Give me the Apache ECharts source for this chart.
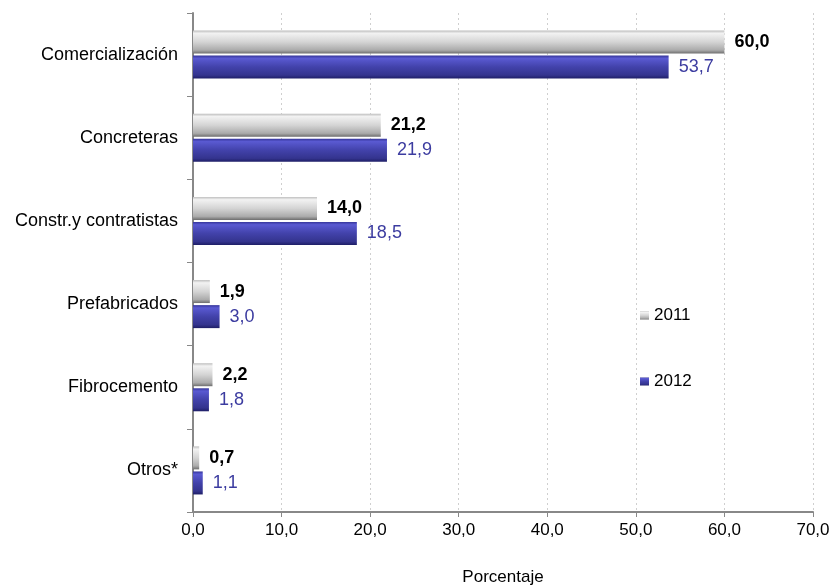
<!DOCTYPE html>
<html><head><meta charset="utf-8">
<script src="https://cdn.jsdelivr.net/npm/echarts@6/dist/echarts.min.js"></script>
<style>html,body{margin:0;padding:0;background:#fff}#c{width:832px;height:587px}</style>
</head><body><div id="c"></div>
<script>
const categories = ['Comercialización','Concreteras','Constr.y contratistas','Prefabricados','Fibrocemento','Otros*'];
const values2011 = [60.0, 21.2, 14.0, 1.9, 2.2, 0.7];
const values2012 = [53.7, 21.9, 18.5, 3.0, 1.8, 1.1];
const seriesNames = ['2011','2012'];

const fmt = v => v.toFixed(1).replace('.', ',');
const grayGrad = new echarts.graphic.LinearGradient(0,0,0,1,[
  {offset:0,color:'#bdbdbd'},{offset:0.12,color:'#f2f2f2'},{offset:0.5,color:'#d4d4d4'},{offset:0.85,color:'#ababab'},{offset:1,color:'#6e6e6e'}]);
const blueGrad = new echarts.graphic.LinearGradient(0,0,0,1,[
  {offset:0,color:'#35359a'},{offset:0.12,color:'#5a5ad2'},{offset:0.5,color:'#4242aa'},{offset:0.85,color:'#34348e'},{offset:1,color:'#1e1e66'}]);

const chart = echarts.init(document.getElementById('c'));
chart.setOption({
  animation:false,
  textStyle:{fontFamily:'Liberation Sans, Arial, sans-serif'},
  grid:{left:193,right:19,top:13,bottom:75,containLabel:false,outerBoundsMode:'none'},
  legend:{
    orient:'vertical', left:635, top:302, itemGap:49, itemWidth:9, itemHeight:8,
    icon:'rect',
    textStyle:{fontSize:17,color:'#000'},
    data:seriesNames
  },
  xAxis:{
    type:'value', min:0, max:70, interval:10,
    name:'Porcentaje', nameLocation:'middle', nameGap:57,
    nameTextStyle:{fontSize:17,color:'#000'},
    axisLine:{show:true,lineStyle:{color:'#888',width:2}},
    axisTick:{show:true,length:5,lineStyle:{color:'#888'}},
    axisLabel:{fontSize:17,color:'#000',margin:10,formatter:v=>fmt(v)},
    splitLine:{show:true,lineStyle:{color:'#cfcfcf',type:[2,3],width:1}}
  },
  yAxis:{
    type:'category', data:categories, inverse:true,
    axisLine:{show:true,lineStyle:{color:'#888',width:2}},
    axisTick:{show:true,length:6,lineStyle:{color:'#888'}},
    axisLabel:{fontSize:18,color:'#000',margin:15}
  },
  series:[
    {name:seriesNames[0],type:'bar',data:values2011,barWidth:23,barGap:'9%',
     itemStyle:{color:grayGrad},
     label:{show:true,position:'right',distance:10,fontSize:18,fontWeight:'bold',color:'#000',formatter:p=>fmt(p.value)}},
    {name:seriesNames[1],type:'bar',data:values2012,barWidth:23,barGap:'9%',
     itemStyle:{color:blueGrad},
     label:{show:true,position:'right',distance:10,fontSize:18,color:'#3c3ca0',formatter:p=>fmt(p.value)}}
  ]
});
</script></body></html>
